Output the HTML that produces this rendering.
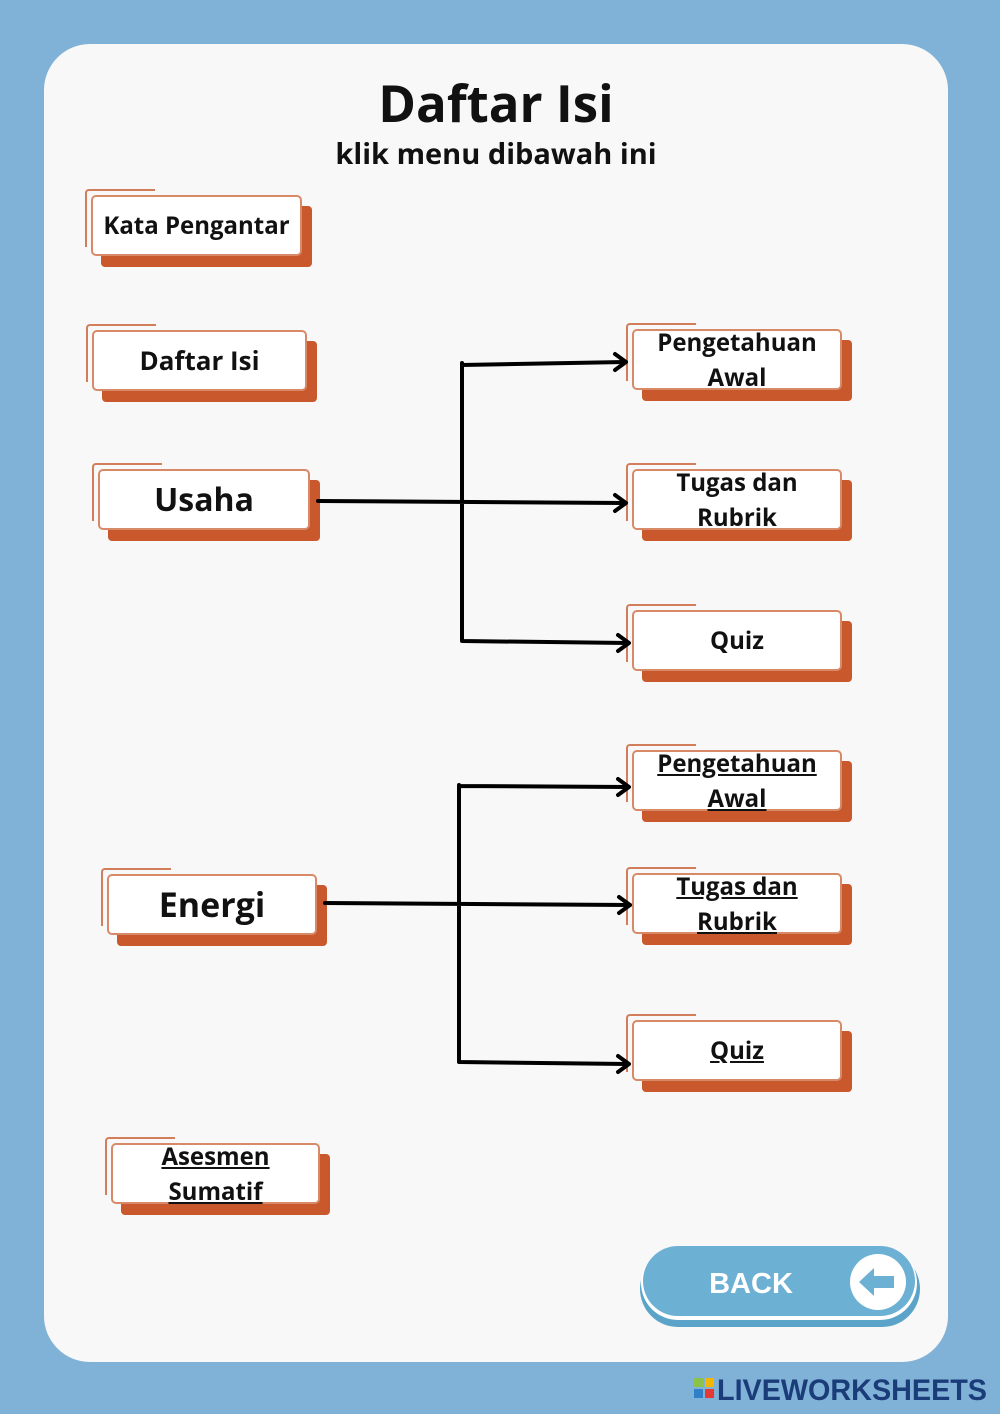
<!DOCTYPE html>
<html><head><meta charset="utf-8"><style>
body{margin:0;width:1000px;height:1414px;background:#80b1d7;position:relative;overflow:hidden;font-family:"Open Sans","DejaVu Sans","Liberation Sans",sans-serif}
.card{position:absolute;left:44px;top:44px;width:904px;height:1318px;background:#f8f8f8;border-radius:46px}
.b{position:absolute}
.sh{position:absolute;left:10px;top:11px;width:100%;height:100%;background:#c9582c;border-radius:4px}
.tab{position:absolute;left:-6px;top:-6px;width:68px;height:56px;border-left:2px solid #d27d5b;border-top:2px solid #d27d5b;border-radius:4px 0 0 0}
.fr{position:absolute;left:0;top:0;width:100%;height:100%;background:#fff;border:2px solid #d88a68;box-sizing:border-box;border-radius:5px;display:flex;align-items:center;justify-content:center;text-align:center;font-weight:bold;color:#111;line-height:35px}
.u{text-decoration:underline}
</style></head><body>
<div class="card"></div>
<div class="b" style="left:0;top:67px;width:992px;text-align:center;font-weight:bold;font-size:51px;color:#111">Daftar Isi</div>
<div class="b" style="left:0;top:134px;width:992px;text-align:center;font-weight:bold;font-size:29px;color:#111">klik menu dibawah ini</div>

<div class="b" style="left:91px;top:195px;width:211px;height:61px"><div class="tab"></div><div class="sh"></div><div class="fr" style="font-size:24px">Kata Pengantar</div></div>
<div class="b" style="left:92px;top:330px;width:215px;height:61px"><div class="tab"></div><div class="sh"></div><div class="fr" style="font-size:26px">Daftar Isi</div></div>
<div class="b" style="left:98px;top:469px;width:212px;height:61px"><div class="tab"></div><div class="sh"></div><div class="fr" style="font-size:32px">Usaha</div></div>
<div class="b" style="left:107px;top:874px;width:210px;height:61px"><div class="tab"></div><div class="sh"></div><div class="fr" style="font-size:34px">Energi</div></div>
<div class="b" style="left:111px;top:1143px;width:209px;height:61px"><div class="tab"></div><div class="sh"></div><div class="fr u" style="font-size:24px">Asesmen<br>Sumatif</div></div>

<div class="b" style="left:632px;top:329px;width:210px;height:61px"><div class="tab"></div><div class="sh"></div><div class="fr" style="font-size:24px">Pengetahuan<br>Awal</div></div>
<div class="b" style="left:632px;top:469px;width:210px;height:61px"><div class="tab"></div><div class="sh"></div><div class="fr" style="font-size:24px">Tugas dan<br>Rubrik</div></div>
<div class="b" style="left:632px;top:610px;width:210px;height:61px"><div class="tab"></div><div class="sh"></div><div class="fr" style="font-size:24px">Quiz</div></div>
<div class="b" style="left:632px;top:750px;width:210px;height:61px"><div class="tab"></div><div class="sh"></div><div class="fr u" style="font-size:24px">Pengetahuan<br>Awal</div></div>
<div class="b" style="left:632px;top:873px;width:210px;height:61px"><div class="tab"></div><div class="sh"></div><div class="fr u" style="font-size:24px">Tugas dan<br>Rubrik</div></div>
<div class="b" style="left:632px;top:1020px;width:210px;height:61px"><div class="tab"></div><div class="sh"></div><div class="fr u" style="font-size:24px">Quiz</div></div>

<svg class="b" style="left:0;top:0" width="1000" height="1414">
<g stroke="#000" stroke-width="4" fill="none" stroke-linecap="round" stroke-linejoin="round">
<path d="M462 363V641M318 501L625 503M462 365L625 362M462 641L628 643"/>
<path d="M615 354L626 362L615 370M615 495L626 503L615 511M618 635L629 643L618 651"/>
<path d="M459 785V1062M325 903L630 905M459 786L628 787M459 1062L628 1064"/>
<path d="M618 779L629 787L618 795M619 897L630 905L619 913M618 1056L629 1064L618 1072"/>
</g>
<rect x="640" y="1251" width="280" height="76" rx="38" fill="#5ba3c8"/>
<rect x="641" y="1246" width="276" height="74" rx="37" fill="#fff"/>
<rect x="643" y="1246" width="272" height="70" rx="35" fill="#6cb0d4"/>
<circle cx="878" cy="1282" r="28" fill="#fff"/>
<path d="M859 1282L874 1268V1276H894V1288H874V1296Z" fill="#6cb0d4"/>
<text x="751" y="1293" text-anchor="middle" font-family="Liberation Sans, sans-serif" font-weight="bold" font-size="29" fill="#fff">BACK</text>
<rect x="694" y="1378" width="9" height="9" fill="#8bc34a"/><rect x="705" y="1378" width="9" height="9" fill="#f2b705"/>
<rect x="694" y="1389" width="9" height="9" fill="#2f80c9"/><rect x="705" y="1389" width="9" height="9" fill="#e53935"/>
<text x="717" y="1400" font-family="Liberation Sans, sans-serif" font-weight="bold" font-size="30" fill="#1a3d7a" textLength="270" lengthAdjust="spacingAndGlyphs">LIVEWORKSHEETS</text>
</svg>
</body></html>
